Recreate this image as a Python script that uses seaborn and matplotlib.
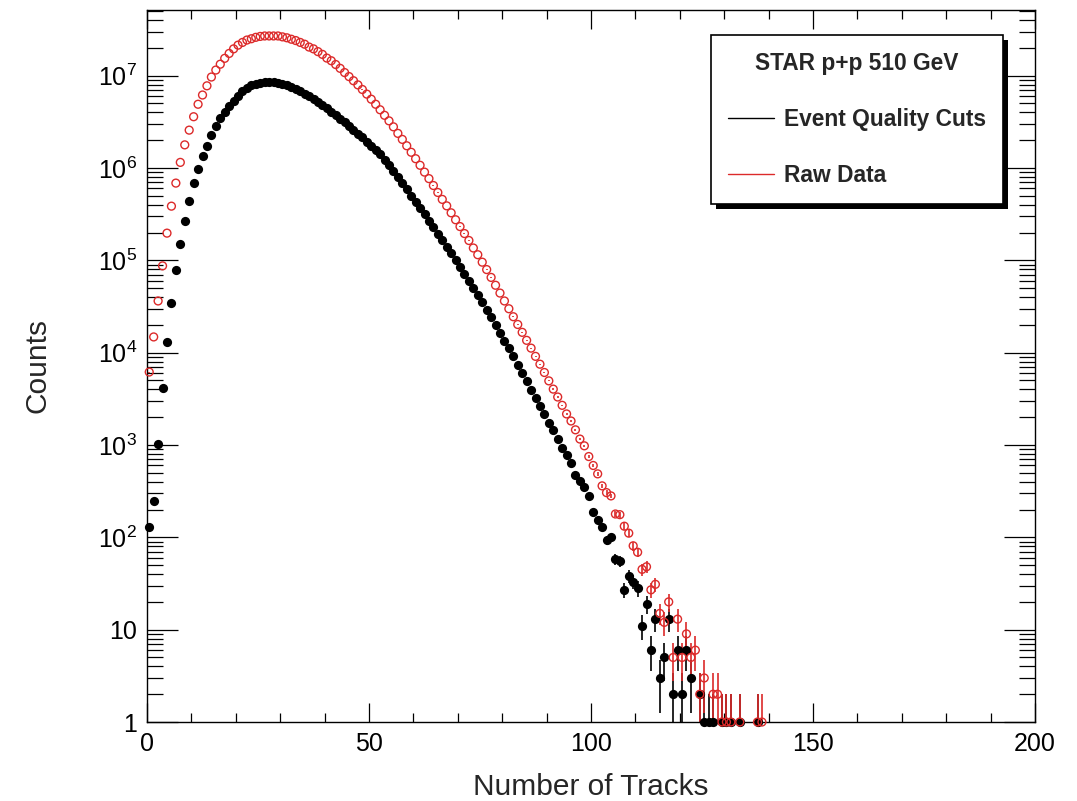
# -*- coding: utf-8 -*-
"""
Track multiplicity, STAR p+p 510 GeV: raw vs. event-quality-cut sample.
Re-drawn in ROOT style with seaborn/matplotlib, saved to out.png.
"""
import numpy as np
import pandas as pd
import seaborn as sns
import matplotlib
matplotlib.use("Agg")
import matplotlib.pyplot as plt
import matplotlib.ticker as ticker
import matplotlib.patheffects as pe
from matplotlib.lines import Line2D

# ================= data =================
# counts per unit-width bin, bin 0 = [0,1), bin 1 = [1,2), ...
CUTS_COUNTS = [
    129, 250, 1020, 4160, 12900, 34700, 77600, 151000, 269000, 442000,
    686000, 977000, 1360000, 1740000, 2250000, 2820000, 3440000, 4030000, 4720000, 5350000,
    6050000, 6750000, 7350000, 7830000, 8170000, 8380000, 8510000, 8510000, 8450000, 8320000,
    8110000, 7830000, 7520000, 7160000, 6750000, 6370000, 5960000, 5570000, 5180000, 4800000,
    4420000, 4060000, 3740000, 3410000, 3110000, 2840000, 2590000, 2340000, 2140000, 1930000,
    1740000, 1570000, 1410000, 1230000, 1070000, 923000, 794000, 684000, 589000, 501000,
    432000, 367000, 316000, 269000, 229000, 195000, 166000, 141000, 120000, 101000,
    85100, 71600, 60300, 50700, 42200, 35100, 29200, 24300, 20000, 16400,
    13500, 11100, 9120, 7410, 6030, 4900, 3980, 3240, 2630, 2140,
    1740, 1450, 1150, 933, 776, 631, 479, 407, 347, 282,
    186, 155, 129, 93, 100, 58, 55, 27, 38, 33,
    28, 11, 19, 6, 13, 3, 5, 13, 2, 6,
    2, 6, 3, 0, 2, 1, 1, 1, 0, 1,
    1, 1, 0, 1, 0, 0, 0, 1, 0,
]
RAW_COUNTS = [
    6170, 14800, 36300, 87100, 197000, 386000, 686000, 1150000, 1780000, 2570000,
    3590000, 4900000, 6170000, 7760000, 9660000, 11500000, 13300000, 15400000, 17400000, 19500000,
    21400000, 22900000, 24300000, 25100000, 26000000, 26600000, 26900000, 26900000, 26900000, 26900000,
    26300000, 25700000, 24800000, 24000000, 22900000, 21900000, 20400000, 19500000, 18200000, 17000000,
    15500000, 14500000, 13200000, 12000000, 10800000, 9770000, 8810000, 7940000, 7080000, 6310000,
    5560000, 4900000, 4270000, 3720000, 3240000, 2790000, 2370000, 2040000, 1740000, 1480000,
    1260000, 1070000, 902000, 767000, 646000, 543000, 457000, 389000, 327000, 275000,
    232000, 195000, 164000, 136000, 115000, 95500, 79400, 65300, 53700, 44200,
    36300, 29900, 24500, 20200, 16600, 13600, 11200, 9120, 7500, 6100,
    4950, 4030, 3310, 2690, 2170, 1820, 1460, 1160, 980, 750,
    600, 487, 361, 305, 281, 179, 176, 132, 111, 81,
    69, 45, 48, 27, 31, 15, 12, 20, 5, 13,
    5, 9, 5, 6, 2, 3, 0, 2, 2, 1,
    1, 1, 0, 1, 0, 0, 0, 1, 1,
]
SERIES_NAMES = ["Event Quality Cuts", "Raw Data"]
LEGEND_TITLE = "STAR p+p 510 GeV"
X_LABEL = "Number of Tracks"
Y_LABEL = "Counts"

# ================= style =================
RED = "#dc2a2a"
sns.set_theme(style="ticks")
plt.rcParams['font.family'] = ['Liberation Sans', 'DejaVu Sans']
plt.rcParams['mathtext.default'] = 'regular'
# =========================================


def build_frame():
    """long-format table: one row per non-empty bin"""
    rows = []
    for name, counts in zip(SERIES_NAMES, [CUTS_COUNTS, RAW_COUNTS]):
        c = np.asarray(counts, dtype=float)
        df = pd.DataFrame({"tracks": np.arange(len(c)) + 0.5, "counts": c})
        df["sample"] = name
        rows.append(df[df["counts"] > 0])
    return pd.concat(rows, ignore_index=True)


def log_label(v, pos):
    k = int(round(np.log10(v)))
    if k == 0:
        return "1"
    if k == 1:
        return "10"
    return r"$10^{%d}$" % k


def draw_series(ax, df, color, filled):
    err = np.sqrt(df["counts"].values)
    lo = np.where(err >= df["counts"].values, df["counts"].values * 0.999, err)
    ax.errorbar(df["tracks"], df["counts"], yerr=[lo, err], fmt="none",
                ecolor=color, elinewidth=1.2, capsize=0, zorder=2)
    if filled:
        sns.scatterplot(data=df, x="tracks", y="counts", ax=ax, color=color,
                        edgecolor=color, linewidth=0, s=44, marker="o",
                        clip_on=False, zorder=3, legend=False)
    else:
        sns.scatterplot(data=df, x="tracks", y="counts", ax=ax,
                        facecolors="none", edgecolor=color, linewidth=1.0,
                        s=32, marker="o", clip_on=False, zorder=4, legend=False)


def main():
    df = build_frame()

    fig = plt.figure(figsize=(10.77, 8.01), dpi=100)
    ax = fig.add_axes([0.1365, 0.0986, 0.8245, 0.8895])

    draw_series(ax, df[df["sample"] == SERIES_NAMES[0]], "black", True)
    draw_series(ax, df[df["sample"] == SERIES_NAMES[1]], RED, False)

    ax.set_yscale("log")
    ax.set_xlim(0, 200)
    ax.set_ylim(1, 5.2e7)

    ax.xaxis.set_major_locator(ticker.MultipleLocator(50))
    ax.xaxis.set_minor_locator(ticker.MultipleLocator(10))
    ax.yaxis.set_major_locator(ticker.LogLocator(base=10, numticks=12))
    ax.yaxis.set_minor_locator(ticker.LogLocator(base=10, subs=np.arange(2, 10), numticks=12))
    ax.yaxis.set_major_formatter(ticker.FuncFormatter(log_label))
    ax.yaxis.set_minor_formatter(ticker.NullFormatter())

    # ROOT-like ticks: inside, on all four sides
    ax.tick_params(axis="both", which="both", direction="in", top=True, right=True,
                   width=0.9, colors="black", labelsize=18, pad=7)
    ax.tick_params(axis="x", which="major", length=13.5)
    ax.tick_params(axis="x", which="minor", length=6.8)
    ax.tick_params(axis="y", which="major", length=22)
    ax.tick_params(axis="y", which="minor", length=11.5)
    for sp in ax.spines.values():
        sp.set_color("black")
        sp.set_linewidth(1.0)

    ax.set_xlabel(X_LABEL, fontsize=21.5)
    ax.set_ylabel(Y_LABEL, fontsize=21.5)
    ax.xaxis.set_label_coords(0.5, -0.071)
    ax.yaxis.set_label_coords(-0.107, 0.5)

    handles = [Line2D([], [], color="black", lw=1.0),
               Line2D([], [], color=RED, lw=1.0)]
    leg = ax.legend(handles, SERIES_NAMES, title=LEGEND_TITLE,
                    loc="upper left", bbox_to_anchor=(0.635, 0.73, 0.3295, 0.234),
                    mode="expand", borderaxespad=0, borderpad=0.75,
                    labelspacing=1.45, handlelength=2.0, handletextpad=0.45,
                    prop={"weight": "bold", "size": 16.4},
                    title_fontproperties={"weight": "bold", "size": 16.4},
                    fancybox=False, framealpha=1, edgecolor="black")
    frame = leg.get_frame()
    frame.set_linewidth(1.2)
    frame.set_path_effects([pe.SimplePatchShadow(offset=(3.6, -3.6),
                                                 shadow_rgbFace="black", alpha=1.0),
                            pe.Normal()])

    fig.savefig("out.png", dpi=100)
    plt.close(fig)


if __name__ == "__main__":
    main()
